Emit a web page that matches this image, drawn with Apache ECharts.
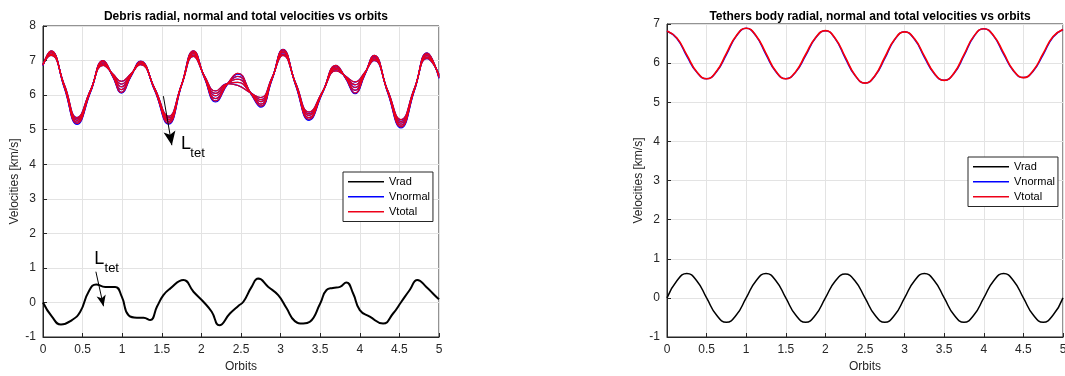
<!DOCTYPE html>
<html>
<head>
<meta charset="utf-8">
<script src="https://cdn.jsdelivr.net/npm/echarts@6/dist/echarts.min.js"></script>
<style>
  html, body { margin: 0; padding: 0; background: #fff; }
  #chart { width: 1065px; height: 376px; }
</style>
</head>
<body>
<div id="chart"></div>
<script>
// left plot: debris, 5 tether lengths (inner -> outer)
const debrisOrbits = [0, 0.10, 0.27, 0.43, 0.60, 0.76, 0.88, 0.99, 1.11, 1.23, 1.41, 1.585, 1.75, 1.90, 2.04, 2.18, 2.33, 2.46, 2.63, 2.75, 2.89, 3.03, 3.19, 3.36, 3.53, 3.70, 3.82, 3.94, 4.06, 4.18, 4.35, 4.52, 4.69, 4.85, 5.00];
const debrisTotal1 = [6.90, 7.15, 6.30, 5.35, 6.15, 6.86, 6.62, 6.40, 6.62, 6.88, 6.20, 5.39, 6.30, 7.12, 6.55, 6.12, 6.33, 6.28, 6.05, 5.93, 6.50, 7.15, 6.35, 5.51, 6.10, 6.70, 6.55, 6.38, 6.65, 7.00, 6.15, 5.29, 6.20, 7.06, 6.60];
const debrisTotal2 = [6.89, 7.18, 6.28, 5.31, 6.14, 6.90, 6.60, 6.32, 6.60, 6.91, 6.19, 5.34, 6.30, 7.16, 6.54, 6.05, 6.33, 6.37, 6.05, 5.87, 6.49, 7.19, 6.34, 5.46, 6.10, 6.74, 6.54, 6.30, 6.63, 7.04, 6.14, 5.24, 6.19, 7.10, 6.58];
const debrisTotal3 = [6.88, 7.22, 6.26, 5.27, 6.13, 6.93, 6.59, 6.24, 6.59, 6.93, 6.18, 5.29, 6.30, 7.20, 6.53, 5.98, 6.33, 6.46, 6.04, 5.81, 6.48, 7.24, 6.33, 5.41, 6.09, 6.78, 6.53, 6.22, 6.62, 7.08, 6.13, 5.19, 6.18, 7.14, 6.55];
const debrisTotal4 = [6.87, 7.25, 6.24, 5.22, 6.11, 6.97, 6.57, 6.16, 6.57, 6.96, 6.16, 5.24, 6.30, 7.24, 6.51, 5.90, 6.33, 6.54, 6.04, 5.74, 6.46, 7.28, 6.31, 5.35, 6.09, 6.82, 6.51, 6.14, 6.60, 7.11, 6.11, 5.13, 6.16, 7.18, 6.53];
const debrisTotal5 = [6.86, 7.28, 6.22, 5.18, 6.10, 7.00, 6.55, 6.08, 6.55, 6.98, 6.15, 5.19, 6.30, 7.28, 6.50, 5.83, 6.33, 6.63, 6.03, 5.68, 6.45, 7.32, 6.30, 5.30, 6.08, 6.86, 6.50, 6.06, 6.58, 7.15, 6.10, 5.08, 6.15, 7.22, 6.50];
const debrisNormalLow = [6.85, 7.27, 6.20, 5.15, 6.08, 6.99, 6.53, 6.06, 6.53, 6.97, 6.13, 5.16, 6.28, 7.27, 6.48, 5.80, 6.31, 6.61, 6.01, 5.65, 6.43, 7.31, 6.28, 5.27, 6.06, 6.85, 6.48, 6.04, 6.56, 7.14, 6.08, 5.05, 6.13, 7.21, 6.48];

const debrisRadOrbits = [0, 0.113, 0.227, 0.366, 0.47, 0.576, 0.672, 0.786, 0.91, 0.996, 1.08, 1.185, 1.27, 1.353, 1.44, 1.52, 1.605, 1.773, 1.9, 2.025, 2.13, 2.227, 2.36, 2.466, 2.53, 2.634, 2.718, 2.845, 2.97, 3.076, 3.18, 3.286, 3.37, 3.5, 3.58, 3.66, 3.75, 3.83, 3.916, 4.0, 4.126, 4.294, 4.42, 4.525, 4.63, 4.727, 4.84, 4.945, 5.0];
const debrisRad = [0, -0.41, -0.64, -0.51, -0.27, 0.31, 0.52, 0.45, 0.45, 0.16, -0.37, -0.44, -0.44, -0.51, -0.12, 0.21, 0.40, 0.65, 0.31, 0.02, -0.27, -0.66, -0.32, -0.10, 0.02, 0.45, 0.69, 0.45, 0.21, -0.17, -0.54, -0.61, -0.56, -0.03, 0.36, 0.42, 0.45, 0.58, 0.26, -0.22, -0.41, -0.61, -0.32, 0.02, 0.36, 0.65, 0.45, 0.21, 0.09];

// right plot: tether body
const tetherOrbits = [0, 0.125, 0.25, 0.375, 0.5, 0.625, 0.75, 0.875, 1, 1.125, 1.25, 1.375, 1.5, 1.625, 1.75, 1.875, 2, 2.125, 2.25, 2.375, 2.5, 2.625, 2.75, 2.875, 3, 3.125, 3.25, 3.375, 3.5, 3.625, 3.75, 3.875, 4, 4.125, 4.25, 4.375, 4.5, 4.625, 4.75, 4.875, 5];
const tetherTotal = [6.82, 6.64, 6.21, 5.78, 5.60, 5.79, 6.25, 6.70, 6.89, 6.70, 6.25, 5.79, 5.60, 5.78, 6.22, 6.65, 6.83, 6.63, 6.16, 5.69, 5.49, 5.68, 6.15, 6.61, 6.80, 6.62, 6.18, 5.74, 5.56, 5.75, 6.22, 6.69, 6.88, 6.70, 6.26, 5.81, 5.63, 5.81, 6.25, 6.68, 6.86];
const tetherNormal = [6.82, 6.63, 6.18, 5.77, 5.60, 5.78, 6.22, 6.69, 6.89, 6.69, 6.22, 5.78, 5.60, 5.77, 6.19, 6.64, 6.83, 6.62, 6.13, 5.68, 5.49, 5.67, 6.12, 6.60, 6.80, 6.61, 6.15, 5.73, 5.56, 5.74, 6.19, 6.68, 6.88, 6.69, 6.23, 5.80, 5.63, 5.80, 6.22, 6.67, 6.86];
const tetherRad = [0, 0.44, 0.62, 0.44, 0, -0.44, -0.62, -0.44, 0, 0.44, 0.62, 0.44, 0, -0.44, -0.62, -0.44, 0, 0.43, 0.61, 0.43, 0, -0.44, -0.62, -0.44, 0, 0.44, 0.62, 0.44, 0, -0.44, -0.62, -0.44, 0, 0.44, 0.62, 0.44, 0, -0.44, -0.62, -0.44, 0];

const legendNames = ["Vrad", "Vnormal", "Vtotal"];

const FONT = "Liberation Sans, Arial, Helvetica, sans-serif";
const AXIS_COLOR = "#262626";

function pairs(xs, ys) {
  return xs.map((x, i) => [x, ys[i]]);
}

function lineSeries(name, xs, ys, color, width, axisIdx) {
  return {
    name: name,
    type: "line",
    xAxisIndex: axisIdx,
    yAxisIndex: axisIdx,
    data: pairs(xs, ys),
    smooth: true,
    showSymbol: false,
    symbol: "none",
    lineStyle: { color: color, width: width },
    itemStyle: { color: color },
    silent: true,
    z: 2,
  };
}

function makeXAxis(idx) {
  return {
    type: "value",
    gridIndex: idx,
    min: 0,
    max: 5,
    interval: 0.5,
    name: "Orbits",
    nameLocation: "middle",
    nameGap: 24,
    nameTextStyle: { fontFamily: FONT, fontSize: 12, color: AXIS_COLOR },
    axisLine: { onZero: false, lineStyle: { color: AXIS_COLOR } },
    axisTick: { inside: true, length: 4, lineStyle: { color: AXIS_COLOR } },
    axisLabel: { fontFamily: FONT, fontSize: 12, color: AXIS_COLOR, margin: 7 },
    splitLine: { lineStyle: { color: "#e3e3e3" } },
  };
}

function makeYAxis(idx, max) {
  return {
    type: "value",
    gridIndex: idx,
    min: -1,
    max: max,
    interval: 1,
    name: "Velocities [km/s]",
    nameLocation: "middle",
    nameGap: 22,
    nameTextStyle: { fontFamily: FONT, fontSize: 12, color: AXIS_COLOR },
    axisLine: { onZero: false, lineStyle: { color: AXIS_COLOR } },
    axisTick: { inside: true, length: 4, lineStyle: { color: AXIS_COLOR } },
    axisLabel: { fontFamily: FONT, fontSize: 12, color: AXIS_COLOR, margin: 7 },
    splitLine: { lineStyle: { color: "#e3e3e3" } },
  };
}

function makeLegend(left, top) {
  return {
    data: legendNames,
    orient: "vertical",
    left: left,
    top: top,
    icon: "rect",
    itemWidth: 36,
    itemHeight: 1.5,
    itemGap: 1.5,
    padding: [3, 3, 3, 5],
    backgroundColor: "#fff",
    borderColor: AXIS_COLOR,
    borderWidth: 1,
    borderRadius: 0,
    textStyle: { fontFamily: FONT, fontSize: 11, color: "#000", lineHeight: 13.5 },
    selectedMode: false,
  };
}

const debrisLines = [debrisTotal1, debrisTotal2, debrisTotal3, debrisTotal4, debrisTotal5];

const series = [];

// left: radial velocity with annotations
const radLeft = lineSeries("Vrad", debrisRadOrbits, debrisRad, "#000", 2, 0);
radLeft.markLine = {
  silent: true,
  symbol: ["none", "arrow"],
  label: { show: false },
  lineStyle: { color: "#000", width: 1, type: "solid" },
  data: [
    [{ coord: [1.52, 5.97] }, { coord: [1.627, 4.55], symbolSize: [9, 14] }],
    [{ coord: [0.668, 0.89] }, { coord: [0.764, -0.11], symbolSize: [7, 11] }],
  ],
};
radLeft.markPoint = {
  silent: true,
  symbol: "circle",
  symbolSize: 0,
  itemStyle: { color: "transparent" },
  data: [
    { coord: [1.807, 4.58], label: { show: true, position: "inside", formatter: "L", fontSize: 18, fontFamily: FONT, color: "#000" } },
    { coord: [1.952, 4.32], label: { show: true, position: "inside", formatter: "tet", fontSize: 13, fontFamily: FONT, color: "#000" } },
    { coord: [0.71, 1.27], label: { show: true, position: "inside", formatter: "L", fontSize: 18, fontFamily: FONT, color: "#000" } },
    { coord: [0.868, 0.99], label: { show: true, position: "inside", formatter: "tet", fontSize: 13, fontFamily: FONT, color: "#000" } },
  ],
};
series.push(radLeft);

series.push(lineSeries("Vnormal", debrisOrbits, debrisNormalLow, "#0000ff", 1.2, 0));
debrisLines.forEach((ys) => {
  series.push(lineSeries("Vnormal", debrisOrbits, ys, "#0000ff", 1.3, 0));
});
debrisLines.forEach((ys) => {
  series.push(lineSeries("Vtotal", debrisOrbits, ys, "#ee0018", 1.1, 0));
});

// right
series.push(lineSeries("Vrad", tetherOrbits, tetherRad, "#000", 1.5, 1));
series.push(lineSeries("Vnormal", tetherOrbits, tetherNormal, "#0000ff", 1.5, 1));
series.push(lineSeries("Vtotal", tetherOrbits, tetherTotal, "#ff0000", 1.6, 1));

const chart = echarts.init(document.getElementById("chart"), null, { renderer: "canvas" });

const gridBase = { show: true, borderColor: AXIS_COLOR, borderWidth: 1, backgroundColor: "#fff", containLabel: false, outerBoundsMode: "none" };

chart.setOption({
  animation: false,
  backgroundColor: "#fff",
  title: [
    {
      text: "Debris radial, normal and total velocities vs orbits",
      left: 241,
      top: 6,
      textAlign: "center",
      textStyle: { fontFamily: FONT, fontSize: 12, fontWeight: "bold", color: "#000" },
    },
    {
      text: "Tethers body radial, normal and total velocities vs orbits",
      left: 865,
      top: 6,
      textAlign: "center",
      textStyle: { fontFamily: FONT, fontSize: 12, fontWeight: "bold", color: "#000" },
    },
  ],
  legend: [makeLegend(343, 172), makeLegend(968, 157)],
  grid: [
    Object.assign({ left: 43, top: 26, width: 396, height: 311 }, gridBase),
    Object.assign({ left: 667, top: 24, width: 396, height: 313 }, gridBase),
  ],
  xAxis: [makeXAxis(0), makeXAxis(1)],
  yAxis: [makeYAxis(0, 8), makeYAxis(1, 7)],
  series: series,
});
</script>
</body>
</html>
